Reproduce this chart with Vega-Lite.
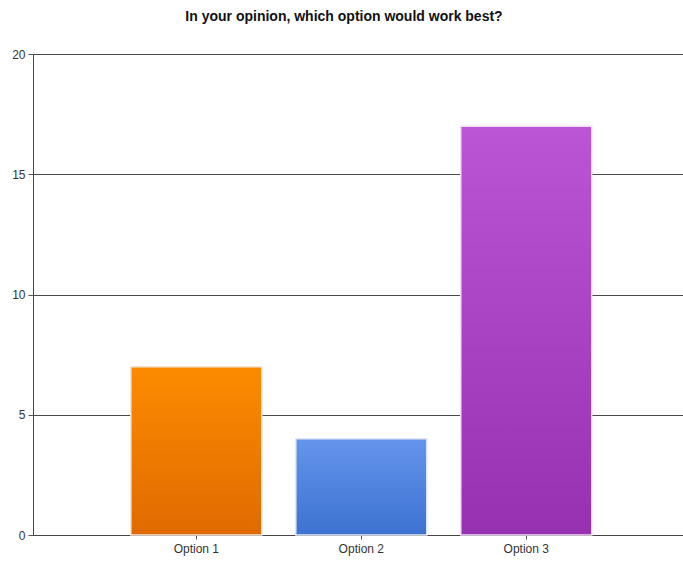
{
  "$schema": "https://vega.github.io/schema/vega-lite/v6.json",
  "autosize": {"type": "none"},
  "width": 650,
  "height": 481,
  "padding": {"left": 33, "top": 54, "right": 0, "bottom": 26},
  "background": "white",
  "title": {
    "text": "In your opinion, which option would work best?",
    "font": "Liberation Sans",
    "fontSize": 14,
    "fontWeight": "bold",
    "color": "#111111",
    "anchor": "middle",
    "dx": -14,
    "offset": 24
  },
  "data": {
    "values": [
      {"option": "Option 1", "count": 7},
      {"option": "Option 2", "count": 4},
      {"option": "Option 3", "count": 17}
    ]
  },
  "encoding": {
    "x": {
      "field": "option",
      "type": "nominal",
      "sort": null,
      "scale": {"paddingInner": 0.206, "paddingOuter": 0.573, "align": 0.5175},
      "axis": {
        "title": null,
        "labelAngle": 0,
        "labelFont": "Liberation Sans",
        "labelFontSize": 12,
        "labelColor": "#333333",
        "labelPadding": 4,
        "tickSize": 4,
        "tickColor": "#555555",
        "domainColor": "#444444",
        "domainWidth": 1,
        "grid": false
      }
    },
    "y": {
      "field": "count",
      "type": "quantitative",
      "scale": {"domain": [0, 20], "nice": false},
      "axis": {
        "title": null,
        "values": [0, 5, 10, 15, 20],
        "labelFont": "Liberation Sans",
        "labelFontSize": 12,
        "labelColor": "#333333",
        "labelPadding": 3,
        "tickSize": 5,
        "tickColor": "#555555",
        "domainColor": "#444444",
        "grid": true,
        "gridColor": "#4a4a4a",
        "gridWidth": 1,
        "gridOpacity": 1
      }
    }
  },
  "layer": [
    {
      "transform": [{"filter": "datum.option === 'Option 1'"}],
      "mark": {
        "type": "bar",
        "stroke": "#f2e6da",
        "strokeWidth": 1.5,
        "color": {
          "gradient": "linear", "x1": 0, "y1": 0, "x2": 0, "y2": 1,
          "stops": [{"offset": 0, "color": "#fd8b00"}, {"offset": 1, "color": "#df6b00"}]
        }
      }
    },
    {
      "transform": [{"filter": "datum.option === 'Option 2'"}],
      "mark": {
        "type": "bar",
        "stroke": "#e2e8f4",
        "strokeWidth": 1.5,
        "color": {
          "gradient": "linear", "x1": 0, "y1": 0, "x2": 0, "y2": 1,
          "stops": [{"offset": 0, "color": "#6495ed"}, {"offset": 1, "color": "#3d72d0"}]
        }
      }
    },
    {
      "transform": [{"filter": "datum.option === 'Option 3'"}],
      "mark": {
        "type": "bar",
        "stroke": "#f0dcf2",
        "strokeWidth": 1.5,
        "color": {
          "gradient": "linear", "x1": 0, "y1": 0, "x2": 0, "y2": 1,
          "stops": [{"offset": 0, "color": "#ba55d6"}, {"offset": 1, "color": "#9632b2"}]
        }
      }
    }
  ]
}
